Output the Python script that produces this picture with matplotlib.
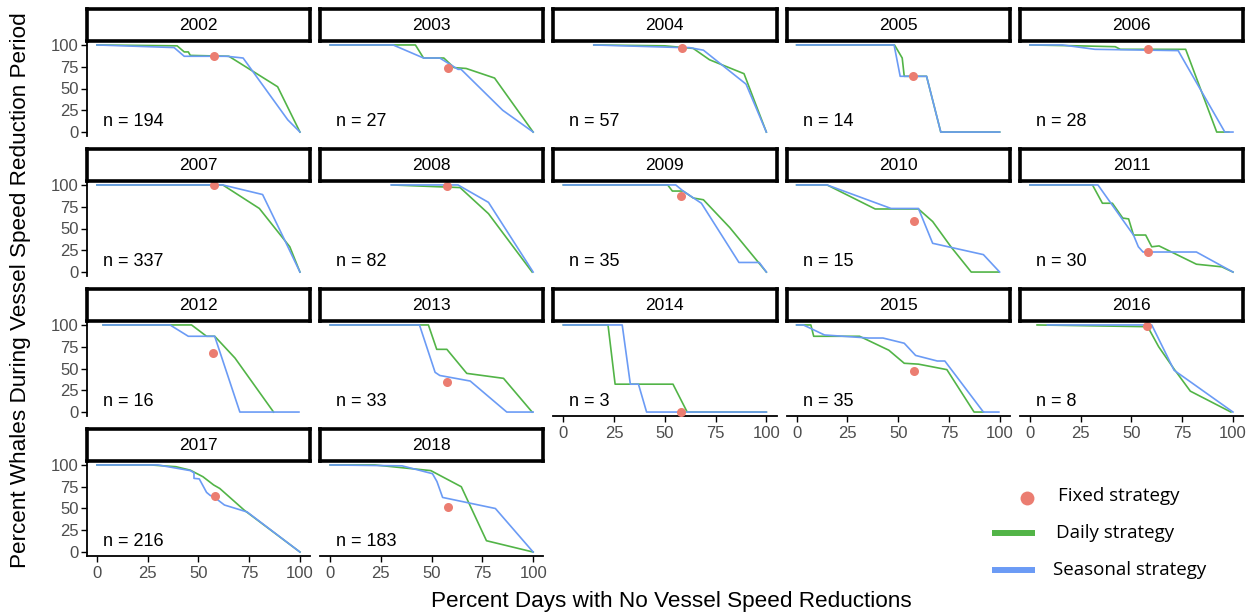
import matplotlib
matplotlib.use("Agg")
import matplotlib.pyplot as plt

plt.rcParams['font.family'] = ['Liberation Sans', 'DejaVu Sans']

years = ["2002", "2003", "2004", "2005", "2006", "2007", "2008", "2009", "2010",
         "2011", "2012", "2013", "2014", "2015", "2016", "2017", "2018"]
n_whales = [194, 27, 57, 14, 28, 337, 82, 35, 15, 30, 16, 33, 3, 35, 8, 216, 183]

fixed_x = [57.7, 58, 58.3, 57.5, 58.3, 57.5, 57.5, 58, 58, 58.3, 57.3, 57.8, 58, 58, 57.9, 58, 58]
fixed_y = [87.4, 73, 97, 64, 95, 99.5, 99, 87, 58.6, 22.6, 67.4, 34.9, 0, 47.5, 99.2, 64, 52]

daily_x = [
    [0, 39.5, 43, 45, 46, 65, 89, 100],
    [0, 42, 46, 56, 61, 67, 81, 100],
    [15, 50, 64, 72, 89, 100],
    [0, 48.2, 52, 53, 64, 71, 100],
    [0, 23.5, 42, 44.5, 76.7, 92, 98],
    [0, 62, 80, 95, 100],
    [30.4, 52.5, 64, 78, 99.5],
    [0, 51.4, 53.7, 59, 64, 69, 82, 100],
    [0, 15, 38.7, 60, 67, 76, 86, 99.5],
    [0, 30.8, 35.7, 40.6, 45.7, 48.6, 51, 57, 60, 63.6, 82, 94.5, 100],
    [3, 46.6, 54, 58, 68, 87],
    [0, 48.4, 52.5, 57.5, 67.3, 85.4, 99.5],
    [0, 22, 25.5, 54, 61, 100],
    [0, 7, 8.4, 31, 45.4, 53, 60, 74, 87.4, 92],
    [3.5, 58, 63.4, 71, 79, 99],
    [0, 26.5, 38.9, 46, 52.2, 57.5, 60.5, 72.6, 100],
    [0, 22, 49.6, 64.6, 77, 100],
]
daily_y = [
    [100, 99, 92, 92, 88, 87, 52, 0],
    [100, 100, 85, 85, 74, 73, 62, 0],
    [100, 99, 96, 83, 67, 0],
    [100, 100, 85, 64, 64, 0, 0],
    [100, 99, 98, 95, 95, 0, 0],
    [100, 100, 73, 29, 0],
    [100, 98, 97, 67, 0],
    [100, 100, 93, 93, 85, 83, 51, 0],
    [100, 100, 72.4, 72.4, 58, 29, 0, 0],
    [100, 100, 79, 79, 62, 61, 42.5, 42.5, 29, 30, 9, 6, 0],
    [100, 100, 87, 87, 62, 0],
    [100, 100, 72, 72, 44.4, 38.7, 0],
    [100, 100, 32, 32, 0, 0],
    [100, 100, 87, 87, 71, 56, 55, 48.7, 0, 0],
    [100, 98, 75, 49.4, 24, 0],
    [100, 100, 98, 94, 86.5, 77, 73, 48, 0],
    [100, 100, 93.5, 75, 13, 0],
]

seasonal_x = [
    [0, 38, 43, 64, 72, 94, 100],
    [0, 31, 46, 54, 63, 64.5, 85, 100],
    [15, 58, 62, 69, 90, 100],
    [0, 48, 51, 64, 71, 100],
    [0, 16, 32, 73, 96, 100],
    [0, 62, 81.6, 92, 100],
    [30, 63, 78, 100],
    [0, 55.4, 59, 68, 86.5, 96.5, 100],
    [0, 15, 46.5, 60, 67, 92, 100],
    [0, 33.5, 51, 53.4, 55.7, 82, 100],
    [3, 36, 45, 58, 70.4, 99.5],
    [0, 44, 51.7, 54, 69, 87, 100],
    [0, 29, 33, 37, 41, 100],
    [0, 3.3, 13.7, 35.4, 42.5, 53, 58.6, 69.3, 73, 92, 99.6],
    [8.6, 60, 71, 100],
    [0, 30, 46, 47.8, 47.8, 50.4, 54, 55.8, 57.5, 62.8, 74, 100],
    [0, 35.4, 50.4, 52.6, 55.4, 81.4, 100],
]
seasonal_y = [
    [100, 97, 87, 87, 85, 14, 0],
    [100, 100, 85, 85, 72, 72, 25, 0],
    [100, 97, 97, 94, 55, 0],
    [100, 100, 64, 64, 0, 0],
    [100, 100, 95, 93.5, 0, 0],
    [100, 100, 89, 39, 0],
    [100, 100, 80, 0],
    [100, 100, 93, 79, 11, 11, 0],
    [100, 100, 73, 73, 33, 20, 0],
    [100, 100, 42.5, 29, 23, 23, 0],
    [100, 100, 87, 87, 0, 0],
    [100, 100, 45.6, 42, 35.6, 0, 0],
    [100, 100, 32, 32, 0, 0],
    [100, 100, 88.5, 85, 85, 79, 65, 58.6, 58.6, 0, 0],
    [100, 100, 48, 0],
    [100, 100, 93.5, 91, 84.6, 84, 68.5, 65, 63.5, 54, 46, 0],
    [100, 99, 90, 81, 62.7, 50, 0],
]

x_ticks = [0, 25, 50, 75, 100]
y_ticks = [0, 25, 50, 75, 100]

legend_labels = ["Fixed strategy", "Daily strategy", "Seasonal strategy"]

C_FIXED = "#EB7D71"
C_DAILY = "#52B447"
C_SEAS = "#6B9BF5"

W, H = 1251, 615
fig = plt.figure(figsize=(W / 100, H / 100), dpi=100)

col_left = [86.8, 320.0, 553.2, 786.5, 1019.8]
pw = 223.3
row_top = [40.6, 180.6, 320.6, 460.6]
ph = 95.8
strip_h = 32.0

ncols = 5
n_panels = len(years)

def fx(px):
    return px / W

def fy(py):
    return 1 - py / H

for i, yr in enumerate(years):
    r, c = divmod(i, ncols)
    left = col_left[c]
    top = row_top[r]
    ax = fig.add_axes([fx(left), fy(top + ph), pw / W, ph / H])
    ax.set_xlim(-5, 105)
    ax.set_ylim(-5, 105)
    ax.plot(daily_x[i], daily_y[i], color=C_DAILY, lw=1.2, zorder=2)
    ax.plot(seasonal_x[i], seasonal_y[i], color=C_SEAS, lw=1.2, zorder=3)
    ax.plot([fixed_x[i]], [fixed_y[i]], 'o', color=C_FIXED, ms=6.5, mec='none', zorder=4)
    ax.text(3, 12, f"n = {n_whales[i]}", fontsize=13, ha='left', va='center', color='black')

    for s in ['top', 'right']:
        ax.spines[s].set_visible(False)
    if c == 0:
        ax.spines['left'].set_linewidth(1.3)
        ax.set_yticks(y_ticks)
        ax.set_yticklabels([str(t) for t in y_ticks])
        ax.tick_params(axis='y', length=4, width=1.0, colors='black', labelcolor='#4D4D4D', labelsize=12, pad=2)
    else:
        ax.spines['left'].set_visible(False)
        ax.set_yticks([])
    has_below = (i + ncols) < n_panels
    if not has_below:
        ax.spines['bottom'].set_linewidth(1.3)
        ax.set_xticks(x_ticks)
        ax.set_xticklabels([str(t) for t in x_ticks])
        ax.tick_params(axis='x', length=4, width=1.0, colors='black', labelcolor='#4D4D4D', labelsize=12, pad=3)
    else:
        ax.spines['bottom'].set_visible(False)
        ax.set_xticks([])

    sax = fig.add_axes([fx(left), fy(top), pw / W, strip_h / H])
    sax.set_xticks([])
    sax.set_yticks([])
    sax.set_facecolor('white')
    for s in sax.spines.values():
        s.set_linewidth(2.6)
        s.set_color('black')
    sax.text(0.5, 0.47, yr, transform=sax.transAxes, ha='center', va='center', fontsize=12.5)

fig.text(fx(671), fy(602), "Percent Days with No Vessel Speed Reductions", ha='center', va='center', fontsize=16.2)
fig.text(fx(21), fy(290), "Percent Whales During Vessel Speed Reduction Period", ha='center', va='center',
         rotation=90, fontsize=16.2)

lax = fig.add_axes([fx(985), fy(590), 230 / W, 110 / H])
lax.set_xlim(985, 1215)
lax.set_ylim(590, 480)
lax.axis('off')
lax.plot([1027], [497.5], 'o', color=C_FIXED, ms=10, mec='none', clip_on=False)
lax.plot([992, 1035], [532.7, 532.7], color=C_DAILY, lw=4.3, solid_capstyle='butt', clip_on=False)
lax.plot([992, 1035], [570, 570], color=C_SEAS, lw=4.3, solid_capstyle='butt', clip_on=False)
lax.text(1058, 496, legend_labels[0], fontsize=13.5, va='center', ha='left', family=['Open Sans', 'DejaVu Sans'])
lax.text(1056, 533, legend_labels[1], fontsize=13.5, va='center', ha='left', family=['Open Sans', 'DejaVu Sans'])
lax.text(1053, 570, legend_labels[2], fontsize=13.5, va='center', ha='left', family=['Open Sans', 'DejaVu Sans'])

fig.savefig("out.png", dpi=100)
